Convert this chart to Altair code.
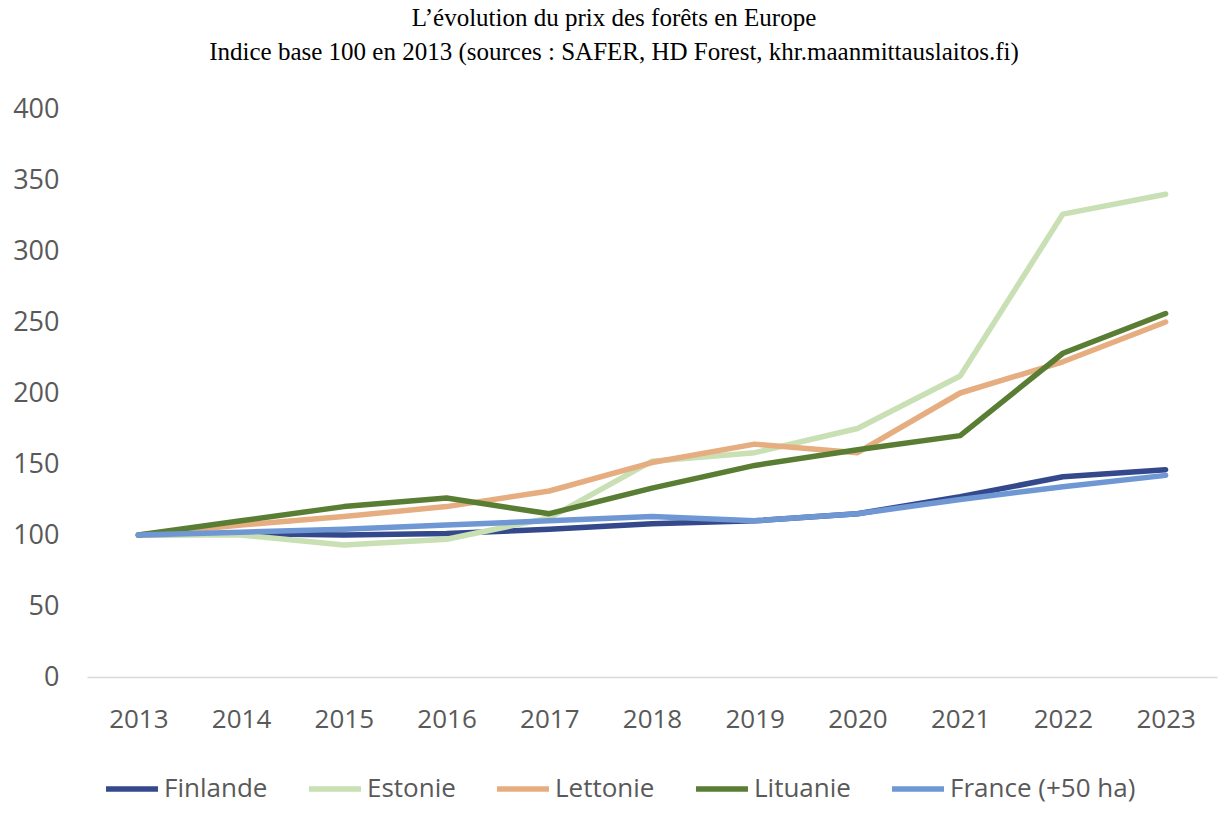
import altair as alt
import pandas as pd

years = ["2013", "2014", "2015", "2016", "2017", "2018", "2019", "2020", "2021", "2022", "2023"]
series_names = ["Finlande", "Estonie", "Lettonie", "Lituanie", "France (+50 ha)"]
finlande = [100, 101, 100, 101, 104, 108, 110, 115, 127, 141, 146]
estonie = [100, 100, 93, 97, 112, 152, 158, 175, 212, 326, 340]
lettonie = [100, 107, 113, 120, 131, 151, 164, 158, 200, 222, 250]
lituanie = [100, 110, 120, 126, 115, 133, 149, 160, 170, 228, 256]
france = [100, 102, 104, 107, 110, 113, 110, 115, 125, 134, 142]
colors = ["#34488C", "#C9DFB4", "#E6AE80", "#5A7D34", "#6E97D4"]

values = [finlande, estonie, lettonie, lituanie, france]
rows = []
for name, vals in zip(series_names, values):
    for y, v in zip(years, vals):
        rows.append({"Année": y, "Indice": v, "Pays": name})
df = pd.DataFrame(rows)

chart = alt.Chart(df).mark_line(strokeWidth=5.5, strokeCap="round", strokeJoin="round").encode(
    x=alt.X("Année:O", sort=years, scale=alt.Scale(paddingOuter=0.5, paddingInner=0),
            axis=alt.Axis(title=None, labelAngle=0, ticks=False, domainColor="#D9D9D9",
                          domainWidth=1.5, labelFontSize=26, labelColor="#595959",
                          labelFont="Open Sans", labelPadding=29)),
    y=alt.Y("Indice:Q", scale=alt.Scale(domain=[0, 400], nice=False),
            axis=alt.Axis(title=None, values=list(range(0, 401, 50)), grid=False, domain=False,
                          ticks=False, labelFontSize=27, labelColor="#595959",
                          labelFont="Open Sans", labelPadding=28)),
    color=alt.Color("Pays:N", sort=series_names,
                    scale=alt.Scale(domain=series_names, range=colors),
                    legend=alt.Legend(title=None, orient="none", direction="horizontal",
                                      legendX=16, legendY=651, columns=5,
                                      symbolType="stroke", symbolSize=2700,
                                      symbolStrokeWidth=5.5, labelFontSize=26,
                                      labelFont="Open Sans", labelColor="#595959",
                                      labelOffset=3, columnPadding=30, labelLimit=400)),
    order=alt.Order("Pays:N"),
).properties(
    width=1130,
    height=568,
    title=alt.TitleParams(
        text=["L’évolution du prix des forêts en Europe",
              "Indice base 100 en 2013 (sources : SAFER, HD Forest, khr.maanmittauslaitos.fi)"],
        font="Liberation Serif", fontSize=25, fontWeight="normal", color="#000000",
        anchor="middle", dx=-38, offset=30, lineHeight=34,
    ),
    autosize=alt.AutoSizeParams(type="none"),
    padding={"left": 87, "top": 109, "right": 12, "bottom": 147},
).configure_view(stroke=None)

chart.save("out.html", embed_options={"renderer": "svg", "actions": False})
